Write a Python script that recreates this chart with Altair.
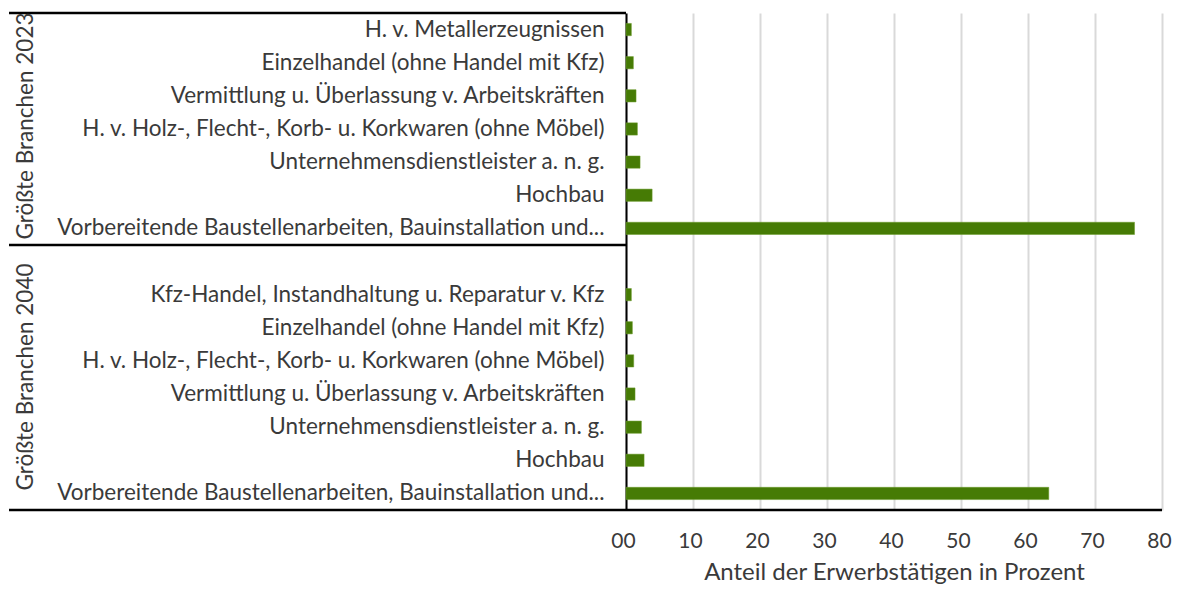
import altair as alt
import pandas as pd

# ---- data ----
gruppen = ["Größte Branchen 2023", "Größte Branchen 2040"]

branchen_2023 = [
    "H. v. Metallerzeugnissen",
    "Einzelhandel (ohne Handel mit Kfz)",
    "Vermittlung u. Überlassung v. Arbeitskräften",
    "H. v. Holz-, Flecht-, Korb- u. Korkwaren (ohne Möbel)",
    "Unternehmensdienstleister a. n. g.",
    "Hochbau",
    "Vorbereitende Baustellenarbeiten, Bauinstallation und...",
]
werte_2023 = [0.8, 1.1, 1.5, 1.7, 2.1, 3.9, 75.9]

branchen_2040 = [
    "Kfz-Handel, Instandhaltung u. Reparatur v. Kfz",
    "Einzelhandel (ohne Handel mit Kfz)",
    "H. v. Holz-, Flecht-, Korb- u. Korkwaren (ohne Möbel)",
    "Vermittlung u. Überlassung v. Arbeitskräften",
    "Unternehmensdienstleister a. n. g.",
    "Hochbau",
    "Vorbereitende Baustellenarbeiten, Bauinstallation und...",
]
werte_2040 = [0.8, 0.95, 1.15, 1.35, 2.3, 2.7, 63.1]

x_ticks = [0, 10, 20, 30, 40, 50, 60, 70, 80]
x_titel = "Anteil der Erwerbstätigen in Prozent"

# ---- build table ----
keys_2023 = [f"{b}|2023" for b in branchen_2023]
keys_2040 = [f"{b}|2040" for b in branchen_2040]
domain = keys_2023 + ["|gap"] + keys_2040

df = pd.DataFrame({
    "key": keys_2023 + keys_2040,
    "wert": werte_2023 + werte_2040,
})

W, H = 536, 497
LEFT = 618
FONT = "Lato"
TXT = "#3a3a3a"
LBL = 22.5

bars = alt.Chart(df).mark_bar(color="#467B05", stroke="#6a9a2a", strokeWidth=0.5).encode(
    x=alt.X("wert:Q",
            scale=alt.Scale(domain=[0, 80], nice=False),
            axis=alt.Axis(values=x_ticks, grid=True, gridColor="#d9d9d9", gridWidth=2,
                          domain=False, ticks=False, labelFlush=False, labelOffset=-3,
                          labelExpr="datum.value == 0 ? '00' : datum.label",
                          labelFontSize=21, labelFont=FONT, labelColor=TXT, labelPadding=20,
                          title=x_titel, titleFontSize=24, titleFont=FONT,
                          titleFontWeight="normal", titleColor=TXT, titlePadding=9)),
    y=alt.Y("key:N",
            scale=alt.Scale(domain=domain, paddingInner=0.63, paddingOuter=0.315),
            axis=alt.Axis(labelExpr="split(datum.value, '|')[0]", title=None,
                          domain=True, domainColor="#000000", domainWidth=2,
                          ticks=False, labelPadding=22, labelLimit=800,
                          labelFontSize=LBL, labelFont=FONT, labelColor=TXT)),
)

lines_df = pd.DataFrame({"x": [-LEFT + 1, -LEFT + 1, -LEFT + 1],
                         "x2": [0, 0, W],
                         "y": [0, 232, H]})
rules = alt.Chart(lines_df).mark_rule(color="#000000", strokeWidth=2.5).encode(
    x=alt.X("x:Q", scale=None), x2="x2:Q", y=alt.Y("y:Q", scale=None)
)

grp_df = pd.DataFrame({"label": gruppen, "ypix": [113, 364], "xpix": [-600, -600]})
grp = alt.Chart(grp_df).mark_text(angle=270, fontSize=LBL, font=FONT, color=TXT,
                                  align="center", baseline="middle").encode(
    x=alt.X("xpix:Q", scale=None), y=alt.Y("ypix:Q", scale=None), text="label:N"
)

chart = alt.layer(bars, rules, grp).properties(
    width=W, height=H,
    autosize=alt.AutoSizeParams(type="none"),
    padding={"left": LEFT, "top": 5, "right": 11, "bottom": 74},
).configure_view(stroke=None)

chart.save("out.html", embed_options={"renderer": "svg", "actions": False})
